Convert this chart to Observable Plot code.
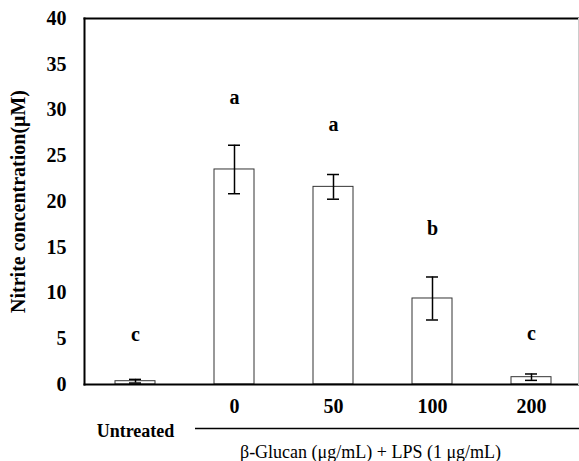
<!DOCTYPE html>
<html>
<head>
<meta charset="utf-8">
<script src="https://cdn.jsdelivr.net/npm/d3@7"></script>
<script src="https://cdn.jsdelivr.net/npm/@observablehq/plot@0.6"></script>
<style>
  html, body { margin: 0; padding: 0; background: white; }
  #chart svg, #chart svg text { font-family: "Liberation Serif", "Times New Roman", serif !important; }
</style>
</head>
<body>
<div id="chart"></div>
<script>
const groups = ["Untreated", "0", "50", "100", "200"];
const doseGroups = ["0", "50", "100", "200"];
const means = [0.36, 23.5, 21.6, 9.4, 0.8];
const errors = [0.2, 2.65, 1.35, 2.35, 0.35];
const letters = ["c", "a", "a", "b", "c"];
const letterY = [5.5, 31.4, 28.4, 17.0, 5.6];
const yTicks = [0, 5, 10, 15, 20, 25, 30, 35, 40];
const yLabel = "Nitrite concentration(\u03BCM)";
const untreatedLabel = "Untreated";
const treatmentLabel = "\u03B2-Glucan (\u03BCg/mL) + LPS (1 \u03BCg/mL)";

const data = groups.map((g, i) => ({g, m: means[i], e: errors[i], l: letters[i], ly: letterY[i]}));
const serif = "Liberation Serif";

const chart = Plot.plot({
  width: 579,
  height: 461,
  marginLeft: 84,
  marginRight: 1,
  marginTop: 18,
  marginBottom: 77,
  style: {fontFamily: serif, background: "white", color: "black"},
  x: {domain: groups, range: [85, 581], paddingInner: 0.6, paddingOuter: 0.3, axis: null},
  y: {domain: [0, 40], axis: null},
  marks: [
    Plot.barY(data, {x: "g", y: "m", fill: "white", stroke: "#333", strokeWidth: 1}),
    Plot.ruleX(data, {x: "g", y1: d => d.m - d.e, y2: d => d.m + d.e, stroke: "black", strokeWidth: 1.5}),
    Plot.tickY(data, {x: "g", y: d => d.m + d.e, insetLeft: 14, insetRight: 14, stroke: "black", strokeWidth: 1.5}),
    Plot.tickY(data, {x: "g", y: d => d.m - d.e, insetLeft: 14, insetRight: 14, stroke: "black", strokeWidth: 1.5}),
    Plot.text(data, {x: "g", y: "ly", text: "l", fontFamily: serif, fontSize: 20, fontWeight: "bold", fill: "black"}),
    Plot.frame({anchor: "left", stroke: "black", strokeWidth: 2}),
    Plot.frame({anchor: "bottom", stroke: "black", strokeWidth: 2}),
    Plot.frame({anchor: "top", stroke: "black", strokeWidth: 2}),
    Plot.frame({anchor: "right", stroke: "#ccc", strokeWidth: 1}),
    Plot.axisY({ticks: yTicks, tickSize: 0, tickPadding: 18, fontFamily: serif, fontSize: 20, fontWeight: "bold", label: null}),
    Plot.axisX({ticks: doseGroups, tickSize: 0, tickPadding: 14, fontFamily: serif, fontSize: 20, fontWeight: "bold", label: null}),
    Plot.text([untreatedLabel], {x: () => "Untreated", frameAnchor: "bottom", lineAnchor: "middle", dy: 47, fontFamily: serif, fontSize: 18, fontWeight: "bold", fill: "black"}),
    Plot.ruleY([0], {dy: 44, insetLeft: 111, insetRight: -1, stroke: "black", strokeWidth: 1.5}),
    Plot.text([treatmentLabel], {frameAnchor: "bottom", lineAnchor: "middle", dx: 39, dy: 68, fontFamily: serif, fontSize: 18, fill: "black"}),
    Plot.text([yLabel], {frameAnchor: "left", textAnchor: "middle", lineAnchor: "middle", rotate: -90, dx: -66, fontFamily: serif, fontSize: 20, fontWeight: "bold", fill: "black"})
  ]
});

document.getElementById("chart").appendChild(chart);
</script>
</body>
</html>
